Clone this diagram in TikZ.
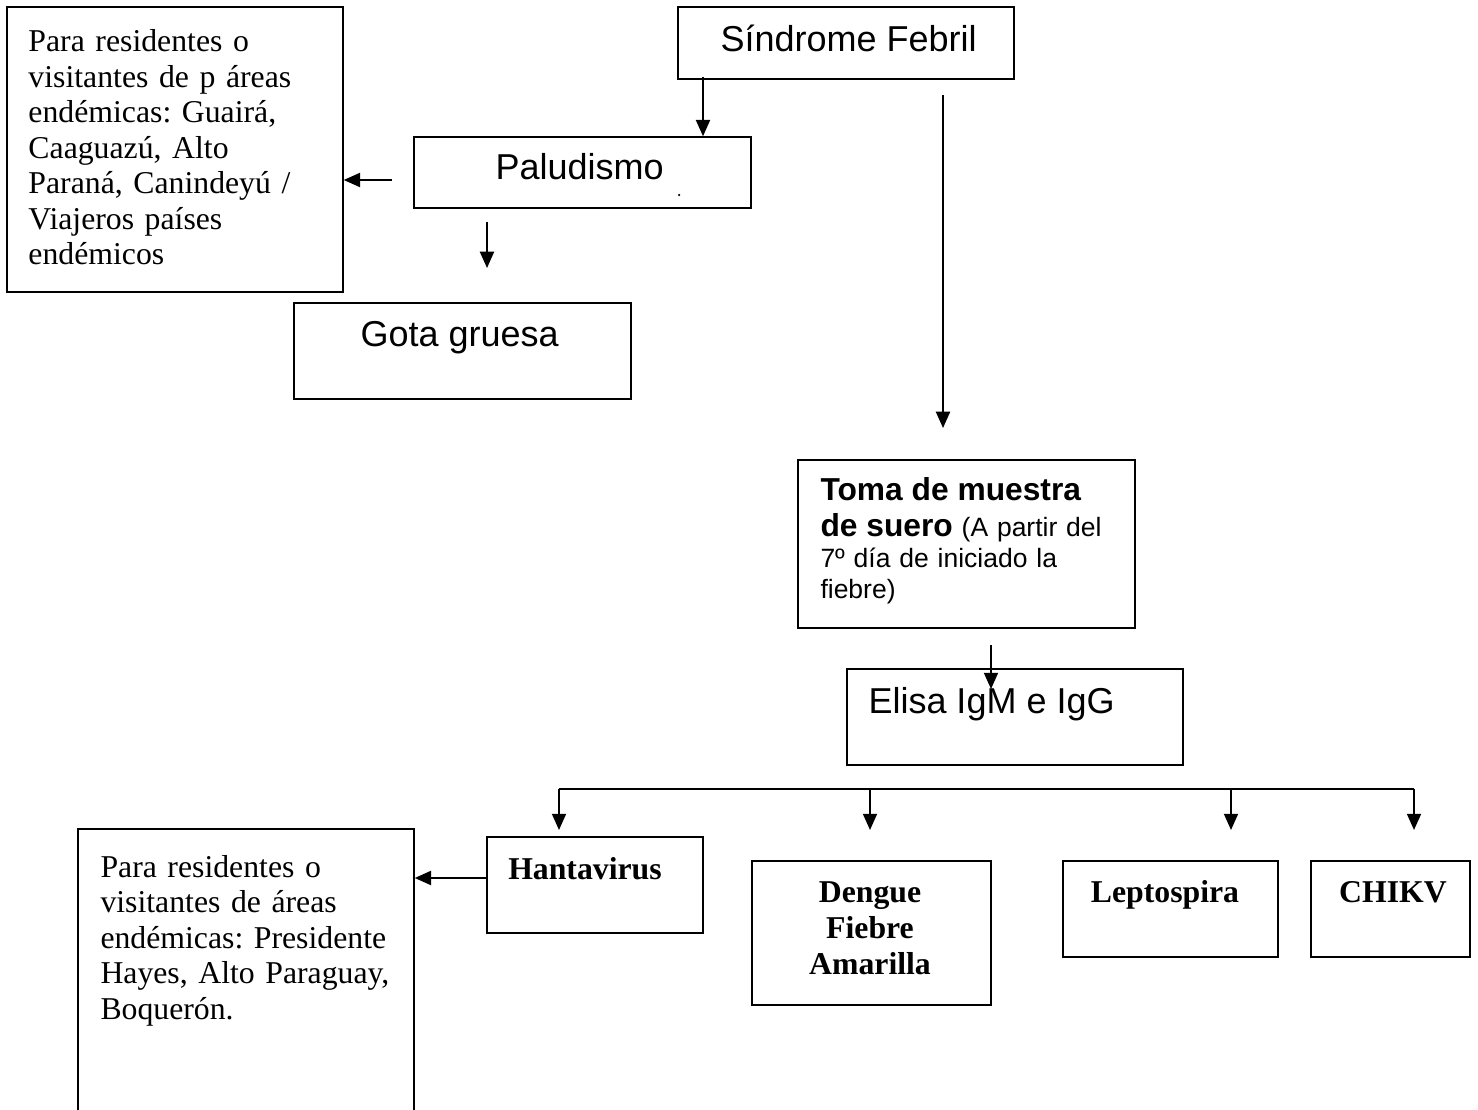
\documentclass[tikz,border=0pt]{standalone}
\usepackage{fontspec}
\setmainfont{Liberation Serif}
\newfontfamily\arialf{Liberation Sans}
\usetikzlibrary{arrows.meta,fit}
\begin{document}
\begin{tikzpicture}[x=0.4pt,y=-0.4pt,
  box/.style={draw, line width=0.6pt, inner sep=0pt},
  arr/.style={-{Triangle[length=6.5pt,width=5.6pt]}, line width=0.8pt},
  plain/.style={line width=0.8pt},
  tnr/.style={font=\fontsize{12.7}{14.2}\selectfont, inner sep=0pt},
  tnrb/.style={font=\fontsize{12.7}{14.4}\selectfont\bfseries, inner sep=0pt},
  ari/.style={font=\arialf\fontsize{14.4}{17}\selectfont, inner sep=0pt}]
\useasboundingbox (0,0) rectangle (1478,1110);
\fill[white] (0,0) rectangle (1478,1110);

% boxes
\node[box, fit={(678,7) (1014,79)}] (sf) {};
\node[box, fit={(7,7) (343,292)}] (ra) {};
\node[box, fit={(414,137) (751,208)}] (pal) {};
\node[box, fit={(294,303) (631,399)}] (gota) {};
\node[box, fit={(798,460) (1135,628)}] (toma) {};
\node[box, fit={(847,669) (1183,765)}] (elisa) {};
\node[box, fit={(487,837) (703,933)}] (hanta) {};
\node[box, fit={(752,861) (991,1005)}] (deng) {};
\node[box, fit={(1063,861) (1278,957)}] (lepto) {};
\node[box, fit={(1311,861) (1470,957)}] (chik) {};
\node[box, fit={(78,829) (414,1130)}] (rb) {};

% texts
\node[ari, anchor=base west] (sft) at (720,52) {Síndrome Febril};
\node[ari, anchor=base west] (palt) at (495,180) {Paludismo};
\node[ari, anchor=base west] (gotat) at (360,347) {Gota gruesa};
\node[ari, anchor=base west] (elisat) at (868,713) {Elisa IgM e IgG};
\node[tnr, anchor=base west, text width=130pt] (rat) at (28,52)
  {\raggedright\frenchspacing Para residentes o\\ visitantes de p áreas\\ endémicas: Guairá,\\ Caaguazú, Alto\\ Paraná, Canindeyú /\\ Viajeros países\\ endémicos};
\node[tnr, anchor=base west, text width=130pt] (rbt) at (100,877)
  {\raggedright\frenchspacing Para residentes o\\ visitantes de áreas\\ endémicas: Presidente\\ Hayes, Alto Paraguay,\\ Boquerón.};
\node[anchor=base west, inner sep=0pt, text width=125pt,
      font=\arialf\fontsize{10.6}{12.2}\selectfont] (tomat) at (820,501)
  {\raggedright\frenchspacing{\fontsize{12.7}{14.4}\selectfont\bfseries Toma de muestra}\\[2.2pt]{\fontsize{12.7}{14.4}\selectfont\bfseries de suero} (A partir del\\ 7º día de iniciado la\\ fiebre)};
\node[tnrb, anchor=base] (hantat) at (585,879) {Hantavirus};
\node[tnrb, anchor=base, text width=90pt] (dengt) at (870,902) {\centering Dengue\\ Fiebre\\ Amarilla\par};
\node[tnrb, anchor=base] (leptot) at (1165,902) {Leptospira};
\node[tnrb, anchor=base] (chikt) at (1393,902) {CHIKV};

% stray dot
\fill (679,195) circle (0.5pt);

% connectors
\coordinate (s1) at (703,77);
\draw[arr] (s1) -- (s1 |- pal.north);
\coordinate (p1) at (392,180);
\draw[arr] (p1) -- (p1 -| ra.east);
\coordinate (p2) at (487,222);
\draw[arr] (p2) -- (487,268);
\coordinate (s2) at (943,95);
\draw[arr] (s2) -- (943,428);
\coordinate (t1) at (991,645);
\draw[arr] (t1) -- (991,689);
\coordinate (b1) at (559,789);
\coordinate (b2) at (870,789);
\coordinate (b3) at (1231,789);
\coordinate (b4) at (1414,789);
\draw[plain] (b1) -- (b4);
\draw[arr] (b1) -- (559,830);
\draw[arr] (b2) -- (870,830);
\draw[arr] (b3) -- (1231,830);
\draw[arr] (b4) -- (1414,830);
\coordinate (h1) at (hanta.west |- 0,878);
\draw[arr] (h1) -- (h1 -| rb.east);
\end{tikzpicture}
\end{document}
